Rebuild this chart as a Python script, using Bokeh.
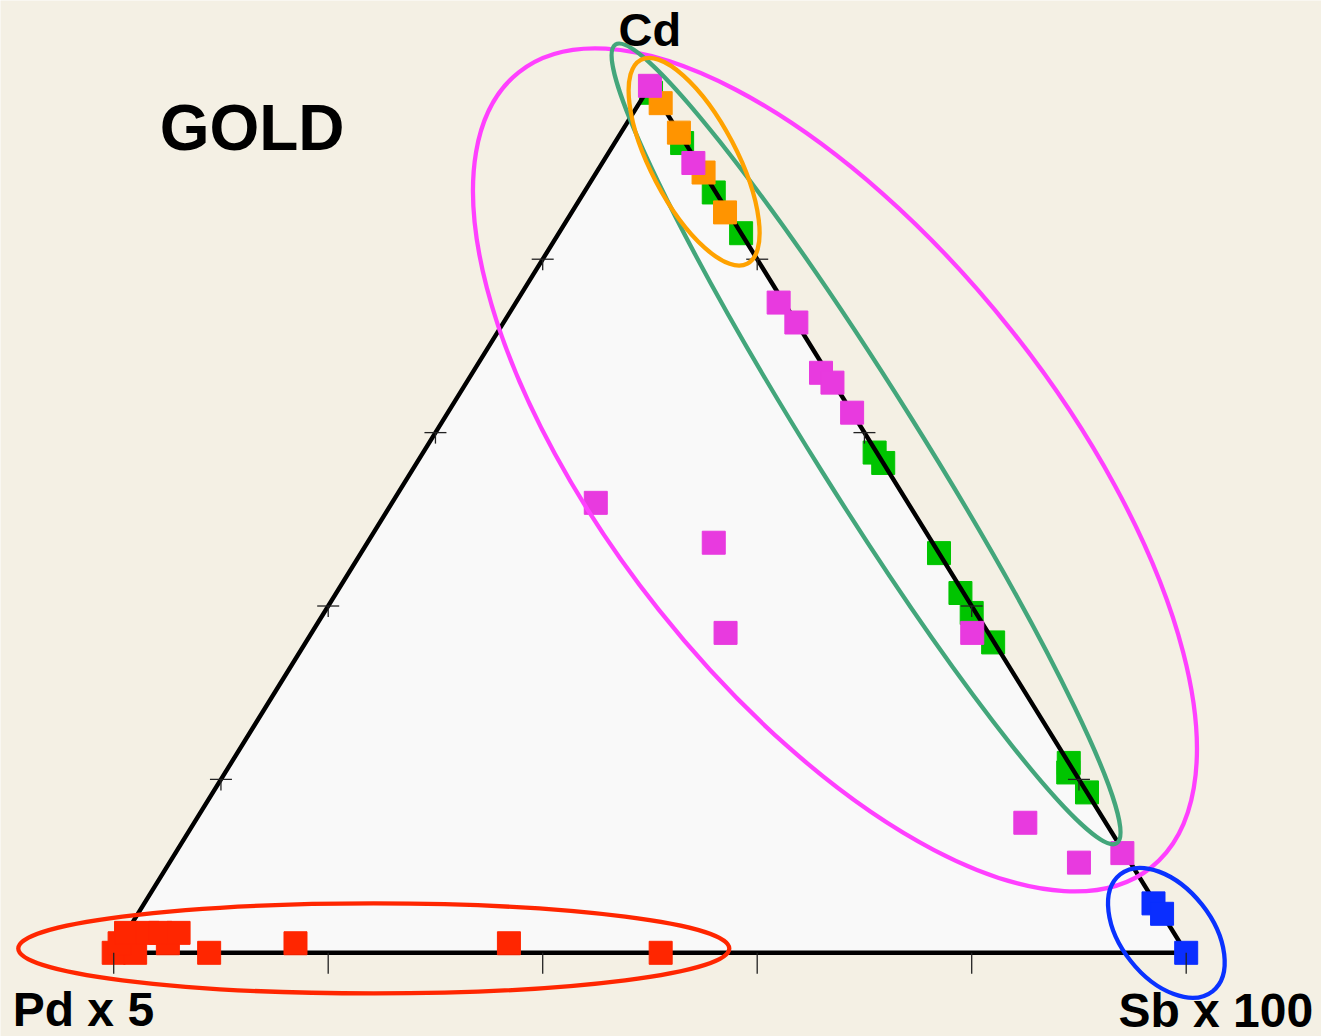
import math
from bokeh.plotting import figure
from bokeh.models import Range1d, Label
from bokeh.embed import file_html
from bokeh.resources import INLINE

# ---------------- data: compositions in % (Pd x 5, Cd, Sb x 100) ----------------
green_pd = [0.3, 0.3, 0.2, 0.0, 0.2, 0.0, 0.0, 0.3, 0.4, 0.1, 0.0, 0.6, 0.0]
green_cd = [99.2, 93.4, 87.7, 83.0, 57.7, 56.5, 46.1, 41.5, 39.2, 35.8, 21.9, 20.8, 18.5]
green_sb = [0.5, 6.3, 12.1, 17.0, 42.1, 43.5, 53.9, 58.2, 60.4, 64.1, 78.1, 78.6, 81.5]

orange_pd = [0.0, 0.0, 0.0, 0.3]
orange_cd = [98.0, 94.6, 90.0, 85.4]
orange_sb = [2.0, 5.4, 10.0, 14.3]

magenta_pd = [0.0, 0.4, 0.5, 0.0, 0.6, 0.1, 0.0, 29.1, 20.4, 24.5, 1.5, 7.5, 4.8, 0.2]
magenta_cd = [100.0, 91.1, 75.0, 72.7, 66.9, 65.7, 62.3, 51.9, 47.3, 36.9, 36.9, 15.0, 10.4, 11.5]
magenta_sb = [0.0, 8.5, 24.5, 27.3, 32.5, 34.1, 37.7, 19.0, 32.3, 38.6, 61.6, 77.5, 84.8, 88.3]

blue_pd = [0.2, 0.0, 0.0]
blue_cd = [5.7, 4.5, 0.0]
blue_sb = [94.1, 95.5, 100.0]

red_pd = [100.0, 98.0, 98.9, 94.4, 97.7, 95.7, 94.5, 92.8, 91.1, 82.5, 62.6, 49.0]
red_cd = [0.0, 0.0, 1.1, 1.1, 2.3, 2.3, 2.3, 2.3, 0.0, 1.1, 1.1, 0.0]
red_sb = [0.0, 2.0, 0.0, 4.5, 0.0, 2.0, 3.2, 4.9, 8.9, 16.4, 36.3, 51.0]

# group ellipses (centre as composition %, axes in screen px, angle in degrees)
ell_color = ["#FF40FF", "#43A67B", "#FFA200", "#0A32FF", "#FF2600"]
ell_pd = [4.9, 0.5, 0.26, 0.7, 75.5]
ell_cd = [55.7, 58.7, 91.3, 2.3, 0.5]
ell_sb = [39.4, 40.8, 8.5, 97.0, 24.0]
ell_major = [1016, 943, 230, 149, 711]
ell_minor = [450, 104, 86, 91, 90]
ell_angle = [-51.5, -57.9, -62.4, -51.7, 0.0]

tick_fracs = [0, 20, 40, 60, 80, 100]
vertex_labels = ["Pd x 5", "Cd", "Sb x 100"]
title_text = "GOLD"

# ---------------- ternary projection ----------------
H3 = math.sqrt(3) / 2


def tern(pd, cd, sb):
    xs, ys = [], []
    for a, b, c in zip(pd, cd, sb):
        s = a + b + c
        xs.append(c / s + 0.5 * b / s)
        ys.append(H3 * b / s)
    return xs, ys


# layout constants (pixel scale of the ternary frame)
W, H = 1321, 1036
ORIGIN_X, ORIGIN_Y = 113.2, 952.3     # canvas position of Pd vertex
SX, SY = 1072.5, 1001.1               # px per ternary unit
x0 = (0 - ORIGIN_X) / SX
x1 = (W - ORIGIN_X) / SX
y1 = ORIGIN_Y / SY
y0 = (ORIGIN_Y - H) / SY

BG = "#F4F0E4"
p = figure(width=W, height=H, x_range=Range1d(x0, x1), y_range=Range1d(y0, y1),
           output_backend="svg", toolbar_location=None, min_border=0)
p.axis.visible = False
p.grid.visible = False
p.outline_line_color = None
p.background_fill_color = BG
p.border_fill_color = BG

# triangle
tx, ty = tern([100, 0, 0], [0, 100, 0], [0, 0, 100])
p.patch(tx, ty, fill_color="#F9F9F9", line_color=None)

SQ = 23
gx, gy = tern(green_pd, green_cd, green_sb)
p.scatter(gx, gy, marker="square", size=SQ, fill_color="#00C400", line_color="#00C400")

p.line(tx + [tx[0]], ty + [ty[0]], line_color="black", line_width=4.4, line_join="miter")

ox, oy = tern(orange_pd, orange_cd, orange_sb)
p.scatter(ox, oy, marker="square", size=SQ, fill_color="#FF9400", line_color="#FF9400")
mx, my = tern(magenta_pd, magenta_cd, magenta_sb)
p.scatter(mx, my, marker="square", size=SQ, fill_color="#E83ADF", line_color="#E83ADF")
bx, by = tern(blue_pd, blue_cd, blue_sb)
p.scatter(bx, by, marker="square", size=SQ, fill_color="#0A2EFF", line_color="#0A2EFF")
rx, ry = tern(red_pd, red_cd, red_sb)
p.scatter(rx, ry, marker="square", size=SQ, fill_color="#FF2600", line_color="#FF2600")

# ticks
bar = 11.0 / SX
stem = 11.0 / SY
down = 21.0 / SY
# bottom edge ticks (downwards)
bt_x, _ = tern([100 - f for f in tick_fracs], [0] * len(tick_fracs), tick_fracs)
p.segment(x0=bt_x, y0=[0] * len(bt_x), x1=bt_x, y1=[-down] * len(bt_x),
          line_color="#222222", line_width=1.3)
inner = tick_fracs[1:-1]
lx, ly = tern([100 - f for f in inner], inner, [0] * len(inner))
rtx, rty = tern([0] * len(inner), inner, [100 - f for f in inner])
for xs, ys in ((lx, ly), (rtx, rty)):
    p.segment(x0=[x - bar for x in xs], y0=ys, x1=[x + bar for x in xs], y1=ys,
              line_color="#222222", line_width=1.3)
    p.segment(x0=xs, y0=ys, x1=xs, y1=[y - stem for y in ys],
              line_color="#222222", line_width=1.3)

# ellipses
ex, ey = tern(ell_pd, ell_cd, ell_sb)
p.ellipse(x=ex, y=ey, width=ell_major, height=ell_minor,
          angle=[math.radians(a) for a in ell_angle],
          width_units="screen", height_units="screen",
          fill_color=None, line_color=ell_color, line_width=4.3)

FONT = "Liberation Sans"
vx, vy = tern([100, 0, 0], [0, 100, 0], [0, 0, 100])
p.add_layout(Label(x=vx[0], y=vy[0], x_offset=-101, y_offset=-57, text=vertex_labels[0],
                   text_font=FONT, text_font_style="bold", text_font_size="48px",
                   text_align="left", text_baseline="alphabetic", text_color="black"))
p.add_layout(Label(x=vx[1], y=vy[1], x_offset=0, y_offset=56, text=vertex_labels[1],
                   text_font=FONT, text_font_style="bold", text_font_size="47px",
                   text_align="center", text_baseline="alphabetic", text_color="black"))
p.add_layout(Label(x=vx[2], y=vy[2], x_offset=127, y_offset=-58, text=vertex_labels[2],
                   text_font=FONT, text_font_style="bold", text_font_size="48px",
                   text_align="right", text_baseline="alphabetic", text_color="black"))
p.add_layout(Label(x=vx[0], y=vy[1], x_offset=46, y_offset=-42, text=title_text,
                   text_font=FONT, text_font_style="bold", text_font_size="64px",
                   text_align="left", text_baseline="alphabetic", text_color="black"))

open("out.html", "w").write(file_html(p, INLINE))
